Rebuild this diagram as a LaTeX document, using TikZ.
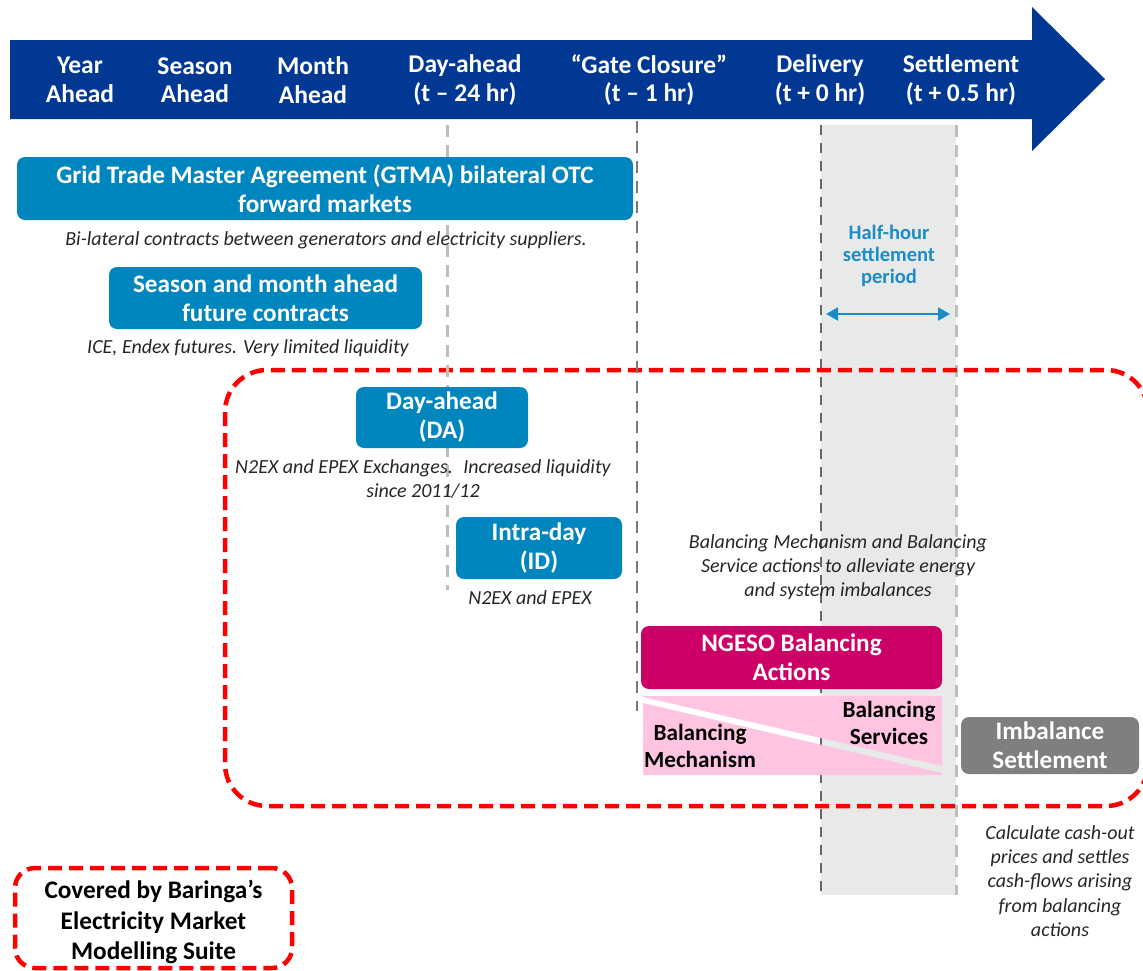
\documentclass[tikz,border=0pt]{standalone}
\usepackage{fontspec}
\setmainfont{Carlito}
\usetikzlibrary{arrows.meta}

\definecolor{hdrblue}{RGB}{0,56,147}
\definecolor{boxblue}{RGB}{0,134,191}
\definecolor{ngeso}{RGB}{204,0,102}
\definecolor{pinkfill}{RGB}{255,196,225}
\definecolor{imbgray}{RGB}{127,127,127}
\definecolor{bandgray}{RGB}{232,234,234}
\definecolor{hhblue}{RGB}{26,140,200}
\definecolor{lightdash}{RGB}{190,190,190}
\definecolor{darkdash}{RGB}{120,120,120}
\definecolor{cover}{RGB}{255,0,0}

\tikzset{
  hdrtext/.style={text=white, align=center, inner sep=0pt,
    font=\fontsize{25.5}{28.5}\selectfont\bfseries},
  mktbox/.style={fill=boxblue, rounded corners=8pt, text=white, align=center,
    inner sep=0pt, font=\fontsize{25.2}{29}\selectfont\bfseries},
  note/.style={align=center, inner sep=0pt, text=black!85,
    font=\fontsize{20}{24.3}\selectfont\itshape},
  blacklabel/.style={align=center, inner sep=0pt, text=black,
    font=\fontsize{23.2}{27}\selectfont\bfseries},
  coverline/.style={draw=cover, line width=4.5pt, dash pattern=on 14pt off 7pt},
  lightgrid/.style={draw=lightdash, line width=3pt, dash pattern=on 12pt off 8pt},
  darkgrid/.style={draw=darkdash, line width=2.5pt, dash pattern=on 12pt off 8pt},
}

\begin{document}
\begin{tikzpicture}[x=1pt, y=-1pt]
\useasboundingbox (0,0) rectangle (1143,970);

% time axis arrow
\fill[hdrblue] (10,40) -- (1032,40) -- (1032,7) -- (1105,79) -- (1032,151)
  -- (1032,119) -- (10,119) -- cycle;
\node[hdrtext] (yr)   at (80,80)  {Year\\Ahead};
\node[hdrtext] (ssn)  at (195,80) {Season\\Ahead};
\node[hdrtext] (mth)  at (313,80) {Month\\Ahead};
\node[hdrtext] (da)   at (465,80) {Day-ahead\\(t – 24 hr)};
\node[hdrtext] (gc)   at (649,80) {“Gate Closure”\\(t – 1 hr)};
\node[hdrtext] (dlv)  at (820,80) {Delivery\\(t + 0 hr)};
\node[hdrtext] (stl)  at (961,80) {Settlement\\(t + 0.5 hr)};

% half-hour settlement band
\fill[bandgray] (821,125) rectangle (956,895);
\draw[draw=black!60, line width=1.3pt, dash pattern=on 10pt off 8pt] (821,125) -- (821,895);
\draw[lightgrid] (956,125) -- (956,895);

% area covered by the modelling suite
\draw[coverline, rounded corners=42pt] (225,370) rectangle (1148,806);

% day-ahead and gate closure markers
\draw[lightgrid] (447,125) -- (447,590);
\draw[darkgrid] (637,121) -- (637,711);

% markets
\node[mktbox, minimum width=616pt, minimum height=63pt] (gtma) at (325,188.5)
  {Grid Trade Master Agreement (GTMA) bilateral OTC\\forward markets};
\node[note] (gtman) at (326,240)
  {Bi-lateral contracts between generators and electricity suppliers.};

\node[mktbox, minimum width=313pt, minimum height=62pt] (fut) at (265.5,298)
  {Season and month ahead\\future contracts};
\node[note] (futn) at (248,348) {ICE, Endex futures. Very limited liquidity};

\node[mktbox, minimum width=172pt, minimum height=61pt] (dam) at (442,417.5)
  {Day-ahead\\(DA)};
\node[note] (damn) at (423,479) {N2EX and EPEX Exchanges.~ Increased liquidity\\since 2011/12};

\node[mktbox, minimum width=166pt, minimum height=62pt] (idm) at (539,548)
  {Intra-day\\(ID)};
\node[note] (idmn) at (530,598) {N2EX and EPEX};

% half-hour settlement period
\node[align=center, inner sep=0pt, text=hhblue,
  font=\fontsize{20.5}{22}\selectfont\bfseries] (hh) at (889,256)
  {Half-hour\\settlement\\period};
\coordinate (hhl) at (826,314);
\coordinate (hhr) at (950,314);
\draw[hhblue, line width=2pt,
  {Triangle[length=12pt,width=13pt]}-{Triangle[length=12pt,width=13pt]}] (hhl) -- (hhr);

% balancing
\node[note] (baln) at (838,567)
  {Balancing Mechanism and Balancing\\Service actions to alleviate energy\\and system imbalances};
\node[mktbox, fill=ngeso, minimum width=301pt, minimum height=63pt] (ngeso) at (791.5,657.5)
  {NGESO Balancing\\Actions};

\fill[pinkfill] (643,696) -- (942,696) -- (942,766) -- (643,697) -- cycle;
\fill[pinkfill] (643,703) -- (942,773) -- (942,775) -- (643,775) -- cycle;
\node[blacklabel] (bs) at (889,723) {Balancing\\Services};
\node[blacklabel] (bm) at (700,746) {Balancing\\Mechanism};

\node[mktbox, fill=imbgray, minimum width=178pt, minimum height=57pt] (imb) at (1050,745.5)
  {Imbalance\\Settlement};
\node[note] (imbn) at (1060,881)
  {Calculate cash-out\\prices and settles\\cash-flows arising\\from balancing\\actions};

% key
\node[coverline, rounded corners=20pt, minimum width=277pt, minimum height=100pt] (key)
  at (153.5,918) {};
\node[blacklabel, font=\fontsize{25.3}{30.5}\selectfont\bfseries] (keyt) at (153.5,922)
  {Covered by Baringa’s\\Electricity Market\\Modelling Suite};
\end{tikzpicture}
\end{document}
